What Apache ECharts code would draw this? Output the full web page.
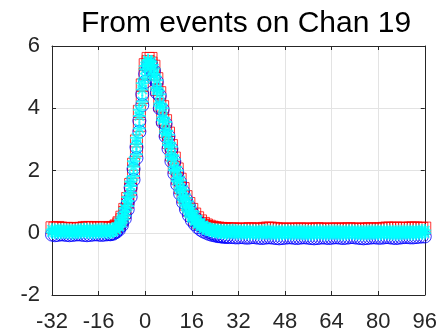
<!DOCTYPE html>
<html>
<head>
<meta charset="utf-8">
<script src="https://cdn.jsdelivr.net/npm/echarts@6/dist/echarts.min.js"></script>
<style>
  html, body { margin: 0; padding: 0; background: #fff; }
  #chart { width: 440px; height: 333px; }
</style>
</head>
<body>
<div id="chart"></div>
<script>
// sample times
var sampleTimes = [
  -32,-31,-30,-29,-28,-27,-26,-25,-24,-23,-22,-21,-20,-19,-18,-17,-16,-15,-14,-13,-12,
  -11,-10,-9,-8,-7,-6,-5,-4,-3,-2,-1,0,
  1,2,3,4,5,6,7,8,9,10,11,12,13,14,15,16,17,18,19,20,21,22,23,24,
  25,26,27,28,29,30,31,32,33,34,35,36,37,38,39,40,41,42,43,44,45,46,47,48,49,50,
  51,52,53,54,55,56,57,58,59,60,61,62,63,64,65,66,67,68,69,70,71,72,73,74,75,76,
  77,78,79,80,81,82,83,84,85,86,87,88,89,90,91,92,93,94,95,96
];
// second event only around the pulse
var pulseTimes = [
  -12,-11,-10,-9,-8,-7,-6,-5,-4,-3,-2,-1,0,
  1,2,3,4,5,6,7,8,9,10,11,12,13,14,15,16,17,18,19,20,21,22,23,24,25,26,27,28
];

// red squares
var redValues = [
  0.16,0.15,0.17,0.15,0.14,0.14,0.13,0.13,0.14,0.13,0.14,0.16,0.17,0.17,0.16,0.15,0.16,0.17,0.16,0.15,0.16,
  0.17,0.22,0.32,0.5,0.75,1.1,1.55,2.2,2.95,3.9,4.75,5.4,
  5.6,5.45,5.1,4.6,4.1,3.65,3.25,2.9,2.5,2.1,1.75,1.45,1.15,0.92,0.72,0.55,0.43,0.34,0.28,0.23,0.2,0.17,0.15,0.14,
  0.13,0.12,0.12,0.11,0.12,0.13,0.12,0.11,0.11,0.12,
  0.12,0.13,0.12,0.12,0.11,0.12,0.14,0.15,0.15,0.14,
  0.13,0.12,0.12,0.11,0.11,0.12,0.12,0.11,0.12,0.12,
  0.12,0.11,0.11,0.12,0.13,0.12,0.12,0.11,0.11,0.12,
  0.12,0.12,0.11,0.12,0.12,0.13,0.12,0.12,0.11,0.11,
  0.12,0.12,0.13,0.12,0.12,0.12,0.13,0.14,0.15,0.15,
  0.14,0.15,0.14,0.15,0.14,0.14,0.15,0.16,0.15,0.14,
  0.14,0.15
];
var redPulse = [
  0.15,0.17,0.2,0.28,0.42,0.65,0.98,1.4,1.95,2.65,3.45,4.35,5.1,
  5.5,5.6,5.35,4.95,4.5,4.05,3.6,3.2,2.8,2.4,2.05,1.72,1.42,1.16,0.94,0.75,0.6,0.48,0.38,0.3,0.25,0.21,0.18,0.16,0.15,0.14,0.13,0.13
];

// blue circles
var blueValues = [
  -0.06,-0.08,-0.07,-0.05,-0.06,-0.07,-0.08,-0.07,-0.06,-0.05,-0.06,-0.07,-0.08,-0.07,-0.06,-0.05,-0.06,-0.07,-0.06,-0.05,-0.04,
  -0.02,0.05,0.15,0.32,0.58,0.95,1.45,2.05,2.75,3.6,4.45,5.1,
  5.35,5.25,4.95,4.5,4.0,3.55,3.1,2.7,2.3,1.9,1.55,1.25,0.98,0.75,0.56,0.4,0.28,0.18,0.1,0.04,0.0,-0.04,-0.07,-0.09,
  -0.11,-0.12,-0.13,-0.13,-0.14,-0.14,-0.15,-0.15,-0.14,-0.15,
  -0.16,-0.15,-0.14,-0.15,-0.16,-0.17,-0.16,-0.15,-0.15,-0.16,
  -0.17,-0.18,-0.17,-0.16,-0.15,-0.15,-0.16,-0.17,-0.16,-0.15,
  -0.15,-0.16,-0.17,-0.18,-0.17,-0.16,-0.15,-0.16,-0.17,-0.16,
  -0.15,-0.15,-0.16,-0.17,-0.16,-0.15,-0.14,-0.15,-0.16,-0.17,
  -0.18,-0.17,-0.16,-0.15,-0.15,-0.16,-0.16,-0.15,-0.14,-0.15,
  -0.16,-0.17,-0.16,-0.15,-0.14,-0.14,-0.15,-0.15,-0.14,-0.13,
  -0.12,-0.12
];
var bluePulse = [
  -0.05,-0.03,0.02,0.1,0.24,0.45,0.75,1.15,1.7,2.4,3.25,4.1,4.85,
  5.3,5.4,5.2,4.85,4.4,3.95,3.5,3.1,2.7,2.3,1.95,1.62,1.33,1.07,0.85,0.65,0.49,0.36,0.25,0.16,0.09,0.03,-0.02,-0.06,-0.09,-0.11,-0.12,-0.13
];

// cyan stars
var cyanValues = [
  0.02,0.01,0.0,0.01,0.02,0.01,0.0,-0.01,0.0,0.01,0.02,0.03,0.02,0.01,0.0,0.01,0.02,0.03,0.02,0.01,0.02,
  0.05,0.12,0.24,0.42,0.68,1.02,1.5,2.12,2.85,3.75,4.6,5.25,
  5.5,5.35,5.05,4.58,4.08,3.62,3.2,2.82,2.42,2.02,1.66,1.36,1.07,0.84,0.64,0.48,0.36,0.27,0.2,0.14,0.1,0.07,0.05,0.03,
  0.02,0.01,0.0,-0.01,-0.01,0.0,-0.01,-0.02,-0.02,-0.01,
  -0.02,-0.03,-0.02,-0.02,-0.03,-0.02,-0.01,-0.02,-0.03,-0.02,
  -0.03,-0.04,-0.03,-0.02,-0.02,-0.03,-0.03,-0.02,-0.02,-0.03,
  -0.03,-0.04,-0.04,-0.03,-0.02,-0.02,-0.03,-0.04,-0.03,-0.02,
  -0.02,-0.03,-0.03,-0.04,-0.03,-0.02,-0.02,-0.03,-0.03,-0.04,
  -0.04,-0.03,-0.03,-0.02,-0.02,-0.03,-0.03,-0.02,-0.02,-0.03,
  -0.03,-0.04,-0.03,-0.03,-0.02,-0.02,-0.03,-0.03,-0.02,-0.02,
  -0.01,-0.01
];
var cyanPulse = [
  0.03,0.05,0.1,0.19,0.33,0.55,0.86,1.28,1.82,2.52,3.35,4.22,4.98,
  5.42,5.5,5.28,4.9,4.45,4.0,3.56,3.15,2.76,2.36,2.0,1.68,1.38,1.12,0.9,0.7,0.55,0.42,0.32,0.24,0.17,0.12,0.08,0.05,0.03,0.02,0.01,0.0
];
// a second, slightly higher cyan trace along the whole record
var cyanValues2 = [
  0.1,0.09,0.08,0.09,0.1,0.09,0.08,0.07,0.08,0.09,0.1,0.11,0.1,0.09,0.08,0.09,0.1,0.11,0.1,0.09,0.1,
  0.12,0.18,0.3,0.5,0.78,1.15,1.65,2.3,3.05,3.95,4.8,5.35,
  5.55,5.4,5.1,4.65,4.15,3.7,3.28,2.9,2.5,2.1,1.74,1.43,1.14,0.9,0.7,0.54,0.42,0.33,0.26,0.2,0.16,0.13,0.11,0.1,
  0.09,0.08,0.08,0.07,0.07,0.08,0.07,0.06,0.06,0.07,
  0.06,0.05,0.06,0.06,0.05,0.06,0.07,0.06,0.05,0.06,
  0.05,0.04,0.05,0.06,0.06,0.05,0.05,0.06,0.06,0.05,
  0.05,0.04,0.04,0.05,0.06,0.06,0.05,0.04,0.05,0.06,
  0.06,0.05,0.05,0.04,0.05,0.06,0.06,0.05,0.05,0.04,
  0.04,0.05,0.05,0.06,0.06,0.05,0.05,0.06,0.06,0.05,
  0.05,0.04,0.05,0.05,0.06,0.06,0.05,0.05,0.06,0.06,
  0.07,0.07
];

var xTicks = { min: -32, max: 96, interval: 16 };
var yTicks = { min: -2, max: 6, interval: 2 };

var pair = function (xs, ys) {
  return ys.map(function (y, i) { return [xs[i], y]; });
};

var chart = echarts.init(document.getElementById('chart'));

var fontFamily = 'Liberation Sans, Arial, sans-serif';
var tickLabel = { fontSize: 22, color: '#262626', fontFamily: fontFamily };
var gridLine = { show: true, lineStyle: { color: '#e3e3e3', width: 1 } };
var boxLine = { show: true, onZero: false, lineStyle: { color: '#262626', width: 1 } };
var tick = { show: true, inside: true, length: 4, lineStyle: { color: '#262626' } };

var square = {
  type: 'scatter', clip: false, symbol: 'rect', symbolSize: 12,
  itemStyle: { color: 'transparent', borderColor: '#ff0000', borderWidth: 1 }
};
var circle = {
  type: 'scatter', clip: false, symbol: 'circle', symbolSize: 13,
  itemStyle: { color: 'transparent', borderColor: '#0000ff', borderWidth: 1 }
};
var star = {
  type: 'scatter', clip: false, symbolSize: 13,
  symbol: 'path://M5 0L5 10M0 5L10 5M1.5 1.5L8.5 8.5M1.5 8.5L8.5 1.5',
  itemStyle: { color: 'transparent', borderColor: '#00ffff', borderWidth: 2 }
};

var option = {
  animation: false,
  backgroundColor: '#fff',
  title: {
    text: 'From events on Chan 19',
    left: 241,
    textAlign: 'center',
    top: 4,
    textStyle: { fontSize: 30, fontWeight: 'normal', color: '#000', fontFamily: fontFamily }
  },
  grid: { left: 52, right: 10, top: 46, bottom: 37 },
  xAxis: [
    {
      type: 'value', min: xTicks.min, max: xTicks.max, interval: xTicks.interval,
      axisLine: boxLine, axisTick: tick, splitLine: gridLine,
      axisLabel: Object.assign({ margin: 16 }, tickLabel)
    },
    {
      type: 'value', position: 'top', min: xTicks.min, max: xTicks.max, interval: xTicks.interval,
      axisLine: boxLine, axisTick: tick, splitLine: { show: false }, axisLabel: { show: false }
    }
  ],
  yAxis: [
    {
      type: 'value', min: yTicks.min, max: yTicks.max, interval: yTicks.interval,
      axisLine: boxLine, axisTick: tick, splitLine: gridLine,
      axisLabel: Object.assign({ margin: 12 }, tickLabel)
    },
    {
      type: 'value', position: 'right', min: yTicks.min, max: yTicks.max, interval: yTicks.interval,
      axisLine: boxLine, axisTick: tick, splitLine: { show: false }, axisLabel: { show: false }
    }
  ],
  series: [
    Object.assign({ data: pair(sampleTimes, redValues) }, square),
    Object.assign({ data: pair(pulseTimes, redPulse) }, square),
    Object.assign({ data: pair(sampleTimes, blueValues) }, circle),
    Object.assign({ data: pair(pulseTimes, bluePulse) }, circle),
    Object.assign({ data: pair(sampleTimes, cyanValues) }, star),
    Object.assign({ data: pair(sampleTimes, cyanValues2) }, star),
    Object.assign({ data: pair(pulseTimes, cyanPulse) }, star)
  ]
};

option && chart.setOption(option);
</script>
</body>
</html>
